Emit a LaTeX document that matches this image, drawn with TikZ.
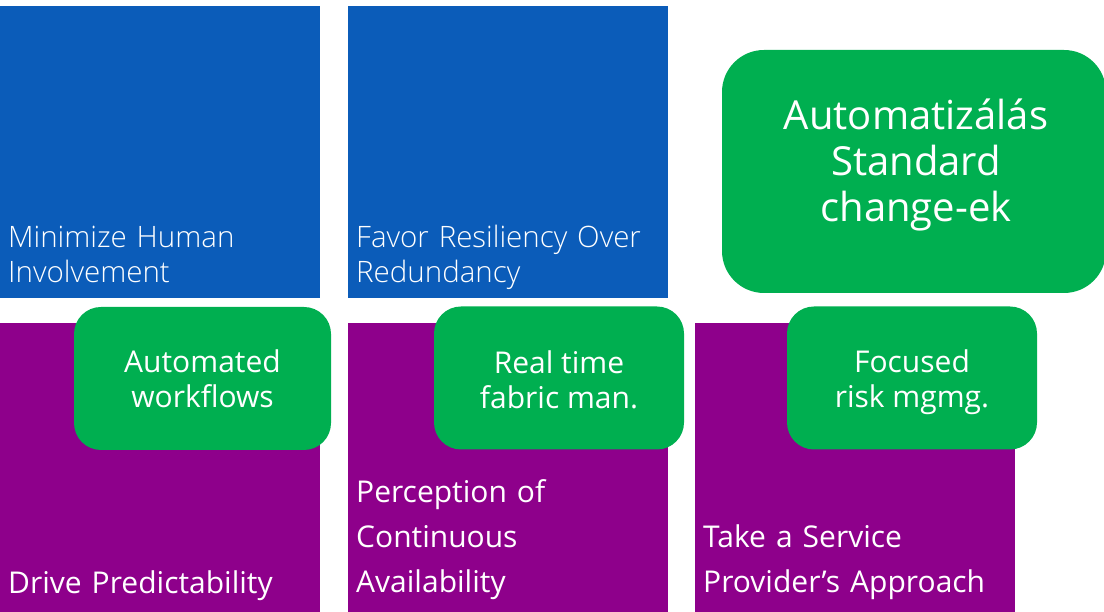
\documentclass[tikz,border=0pt]{standalone}
\usepackage{fontspec}
\setmainfont{Open Sans}
\newfontfamily\thinfont{Open Sans}[UprightFont=* Light]
\definecolor{tileblue}{HTML}{0B5CB9}
\definecolor{tilepurple}{HTML}{8E008B}
\definecolor{boxgreen}{HTML}{00AF50}
\begin{document}
\begin{tikzpicture}[x=1pt,y=1pt,
  tile/.style={fill=#1,draw=none,inner sep=0,anchor=south west,minimum width=320},
  thintext/.style={text=white,inner sep=0,anchor=base west,text width=320,align=left,font=\thinfont\fontsize{29.5}{35}\selectfont},
  tiletext/.style={text=white,inner sep=0,anchor=base west,text width=320,align=left,font=\fontsize{30}{45}\selectfont},
  greenbox/.style={fill=boxgreen,draw=none,rounded corners=27,minimum width=#1,minimum height=143,text=white,align=center,font=\fontsize{30}{35}\selectfont}]
\useasboundingbox (0,0) rectangle (1104,612);

\node[tile=tileblue,minimum height=292] (human) at (0,314) {};
\node[tile=tileblue,minimum height=292] (resiliency) at (348,314) {};
\node[tile=tilepurple,minimum height=289] (predict) at (0,0) {};
\node[tile=tilepurple,minimum height=289] (avail) at (348,0) {};
\node[tile=tilepurple,minimum height=289] (provider) at (695,0) {};

\node[thintext] (humantext) at (8,364) {Minimize Human\\Involvement};
\node[thintext] (resiliencytext) at (356,364) {Favor Resiliency Over\\Redundancy};
\node[tiletext] (predicttext) at (8,18) {Drive Predictability};
\node[tiletext] (availtext) at (356,109) {Perception of\\Continuous\\Availability};
\node[tiletext] (providertext) at (703,64) {Take a Service\\Provider’s Approach};

\node[greenbox=257] (workflows) at (202.5,233.5) {Automated\\workflows};
\node[greenbox=250] (fabric) at (559,234) {};
\node[text=white,align=center,font=\fontsize{30}{35}\selectfont] (fabrictext) at (559,232) {Real time\\fabric man.};
\node[greenbox=250] (risk) at (912,234) {};
\node[text=white,align=center,font=\fontsize{30}{35}\selectfont] (risktext) at (912,230) {Focused\\risk mgmg.};

\node[fill=boxgreen,draw=none,rounded corners=42,minimum width=384,minimum height=243] (standard) at (914,440.5) {};
\node[text=white,align=center,font=\fontsize{40}{46}\selectfont] (standardtext) at (916,447) {Automatizálás\\Standard\\change-ek};
\end{tikzpicture}
\end{document}
